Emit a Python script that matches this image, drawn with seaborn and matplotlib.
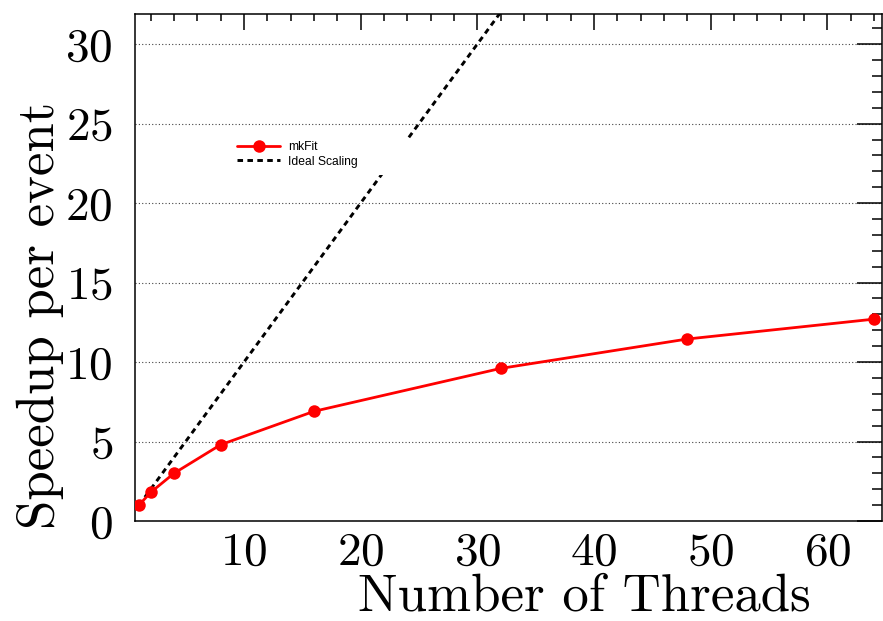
import matplotlib
matplotlib.use("Agg")
import matplotlib.pyplot as plt
import seaborn as sns
import pandas as pd
from matplotlib.patches import Rectangle
from matplotlib.ticker import MultipleLocator

# ---- data ----
threads = [1, 2, 4, 8, 16, 32, 48, 64]
speedup = [1.0, 1.8, 3.0, 4.8, 6.9, 9.6, 11.45, 12.7]
ideal = [1, 2, 4, 8, 16, 32, 48, 64]
series_labels = ["mkFit", "Ideal Scaling"]
x_title = "Number of Threads"
y_title = "Speedup per event"

sns.set_style("white")
plt.rcParams["font.family"] = ["cmr10", "DejaVu Serif"]
plt.rcParams["axes.formatter.use_mathtext"] = True
plt.rcParams["mathtext.fontset"] = "cm"
for k in ["text.color", "axes.labelcolor", "xtick.color", "ytick.color",
          "axes.edgecolor"]:
    plt.rcParams[k] = "black"

fig = plt.figure(figsize=(8.83, 6.21), dpi=100)
ax = fig.add_axes([0.1529, 0.161, 0.846, 0.8165])

df = pd.DataFrame({"threads": threads, "speedup": speedup, "ideal": ideal})

sns.lineplot(data=df, x="threads", y="ideal", ax=ax, color="black",
             lw=2.1, linestyle=(0, (1.9, 1.5)), label=series_labels[1], zorder=2)
sns.lineplot(data=df, x="threads", y="speedup", ax=ax, color="#ff0000",
             lw=2.0, marker="o", markersize=9, markeredgewidth=0,
             label=series_labels[0], zorder=4)

ax.set_xlim(0.66, 64.7)
ax.set_ylim(0, 31.9)
ax.xaxis.set_major_locator(MultipleLocator(10))
ax.xaxis.set_minor_locator(MultipleLocator(2))
ax.yaxis.set_major_locator(MultipleLocator(5))
ax.yaxis.set_minor_locator(MultipleLocator(1))

ax.tick_params(which="both", direction="in", top=True, right=True,
               width=1.1, color="black", labelcolor="black")
ax.tick_params(axis="x", which="major", length=11.5, labelsize=34, pad=8)
ax.tick_params(axis="x", which="minor", length=5)
ax.tick_params(axis="y", which="major", length=18, labelsize=34, pad=16)
ax.tick_params(axis="y", which="minor", length=7)

for s in ax.spines.values():
    s.set_linewidth(1.1)
    s.set_color("black")

ax.yaxis.grid(True, which="major", linestyle=(0, (1, 2)), color="#444444", lw=0.8)
ax.xaxis.grid(False)
ax.set_axisbelow(True)

ax.set_xlabel(x_title, fontsize=38, color="black")
ax.set_ylabel(y_title, fontsize=38, color="black")
ax.xaxis.set_label_coords(0.602, -0.150)
ax.xaxis.label.set_va("center")
ax.yaxis.set_label_coords(-0.127, 0.406)
ax.yaxis.label.set_va("center")

# white box behind legend (interrupts ideal line)
ax.add_patch(Rectangle((0.12, 0.682), 0.248, 0.073, transform=ax.transAxes,
                       facecolor="white", edgecolor="none", zorder=3))

h, l = ax.get_legend_handles_labels()
order = [l.index(series_labels[0]), l.index(series_labels[1])]
leg = ax.legend([h[i] for i in order], [l[i] for i in order],
                loc="center left", bbox_to_anchor=(0.1365, 0.723),
                frameon=False, borderpad=0, borderaxespad=0,
                prop={"family": "Liberation Sans", "size": 8.7},
                handlelength=3.6, handletextpad=0.6, labelspacing=0.2)
for t in leg.get_texts():
    t.set_color("black")
leg.set_zorder(5)

fig.savefig("out.png", dpi=100)
